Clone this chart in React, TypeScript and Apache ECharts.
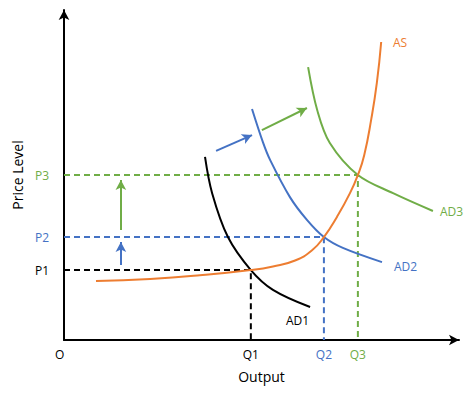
import React, { useEffect, useRef } from "react";
import * as echarts from "echarts";

// Equilibrium levels
const Q_VALUES = [4.73, 6.58, 7.44];
const P_VALUES = [2.12, 3.12, 5.0];
const Q_LABELS = ["Q1", "Q2", "Q3"];
const P_LABELS = ["P1", "P2", "P3"];

// Curves (x = output, y = price level)
const AS_POINTS = [
  [0.81, 1.79], [2.18, 1.85], [3.44, 1.96], [4.73, 2.12], [5.29, 2.23], [5.85, 2.41],
  [6.28, 2.72], [6.58, 3.12], [6.91, 3.73], [7.24, 4.45], [7.44, 5.0], [7.6, 5.6],
  [7.78, 6.7], [7.92, 7.79], [8.03, 9.03],
];
const AD1_POINTS = [
  [3.57, 5.55], [3.75, 4.45], [4.15, 3.12], [4.73, 2.12], [5.29, 1.52], [6.23, 1.0],
];
const AD2_POINTS = [
  [4.76, 7.0], [5.04, 5.98], [5.22, 5.45], [5.72, 4.33], [6.15, 3.64], [6.58, 3.12],
  [7.06, 2.79], [8.05, 2.36],
];
const AD3_POINTS = [
  [6.18, 8.27], [6.41, 6.97], [6.73, 5.97], [7.44, 5.0], [8.33, 4.45], [9.34, 3.91],
];

// Shift arrows: [from, to]
const BLUE_ARROWS = [
  [[1.44, 2.27], [1.44, 2.97]],
  [[3.85, 5.73], [4.76, 6.21]],
];
const GREEN_ARROWS = [
  [[1.44, 3.33], [1.44, 4.85]],
  [[5.01, 6.36], [6.15, 7.03]],
];

const BLACK = "#000000";
const ORANGE = "#ED7D31";
const BLUE = "#4472C4";
const GREEN = "#70AD47";
const LEVEL_COLORS = [BLACK, BLUE, GREEN];
const FONT = "Open Sans";

const rich = {
  c0: { color: BLACK, fontFamily: FONT, fontSize: 12 },
  c1: { color: BLUE, fontFamily: FONT, fontSize: 12 },
  c2: { color: GREEN, fontFamily: FONT, fontSize: 12 },
};

export default function App() {
  const ref = useRef<HTMLDivElement>(null);
  useEffect(() => {
    document.body.style.margin = "0";
    if (!ref.current) return;
    const chart = echarts.init(ref.current, null, { renderer: "svg" });

    const curve = (data: number[][], color: string, z: number, smooth: number) => ({
      type: "line",
      data,
      smooth,
      showSymbol: false,
      symbol: "none",
      silent: true,
      z,
      lineStyle: { color, width: 2 },
    });

    const dashed = Q_VALUES.map((q, i) => ({
      type: "line",
      data: [[0, P_VALUES[i]], [q, P_VALUES[i]], [q, 0]],
      showSymbol: false,
      symbol: "none",
      silent: true,
      z: 1,
      lineStyle: { color: LEVEL_COLORS[i], width: 2, type: [6, 4] },
    }));

    const arrows = (list: number[][][], color: string) => ({
      type: "line",
      data: [],
      silent: true,
      markLine: {
        silent: true,
        symbol: ["none", "arrow"],
        symbolSize: [8, 10],
        label: { show: false },
        lineStyle: { color, width: 2, type: "solid" },
        emphasis: { disabled: true },
        data: list.map((a) => [{ coord: a[0] }, { coord: a[1] }]),
      },
    });

    const text = (t: string, x: number, y: number, color: string, size = 12, align = "left") => ({
      type: "text",
      x,
      y,
      style: {
        text: t,
        fill: color,
        font: `${size}px "${FONT}"`,
        align,
        verticalAlign: "middle",
      },
    });

    const idxOf = (arr: number[], v: number) =>
      arr.findIndex((a) => Math.abs(a - Number(v)) < 1e-6);

    chart.setOption({
      animation: false,
      grid: { left: 64, right: 15, top: 10, bottom: 55 },
      xAxis: {
        type: "value",
        min: 0,
        max: 10,
        splitLine: { show: false },
        axisTick: { show: false },
        axisLine: {
          lineStyle: { color: BLACK, width: 2 },
          symbol: ["none", "arrow"],
          symbolSize: [8, 10],
        },
        axisLabel: {
          customValues: Q_VALUES,
          formatter: (v: number) => {
            const i = idxOf(Q_VALUES, v);
            return i < 0 ? "" : `{c${i}|${Q_LABELS[i]}}`;
          },
          rich,
          margin: 8,
        },
        name: "Output",
        nameLocation: "middle",
        nameGap: 29,
        nameTextStyle: { fontFamily: FONT, fontSize: 14, color: BLACK },
      },
      yAxis: {
        type: "value",
        min: 0,
        max: 10,
        splitLine: { show: false },
        axisTick: { show: false },
        axisLine: {
          lineStyle: { color: BLACK, width: 2 },
          symbol: ["none", "arrow"],
          symbolSize: [8, 10],
        },
        axisLabel: {
          customValues: P_VALUES,
          formatter: (v: number) => {
            const i = idxOf(P_VALUES, v);
            return i < 0 ? "" : `{c${i}|${P_LABELS[i]}}`;
          },
          rich,
          margin: 15,
        },
        name: "Price Level",
        nameLocation: "middle",
        nameGap: 40,
        nameRotate: 90,
        nameTextStyle: { fontFamily: FONT, fontSize: 14, color: BLACK },
      },
      series: [
        ...dashed,
        curve(AD1_POINTS, BLACK, 3, 0.35),
        curve(AD2_POINTS, BLUE, 3, 0.35),
        curve(AD3_POINTS, GREEN, 3, 0.35),
        curve(AS_POINTS, ORANGE, 4, 0.5),
        arrows(BLUE_ARROWS, BLUE),
        arrows(GREEN_ARROWS, GREEN),
      ],
      graphic: [
        text("O", 55, 354, BLACK),
        text("AS", 393, 42, ORANGE),
        text("AD3", 440, 211, GREEN),
        text("AD2", 394, 266, BLUE),
        text("AD1", 286, 320, BLACK),
      ],
    });
    return () => chart.dispose();
  }, []);
  return <div ref={ref} style={{ width: 474, height: 395 }} />;
}
